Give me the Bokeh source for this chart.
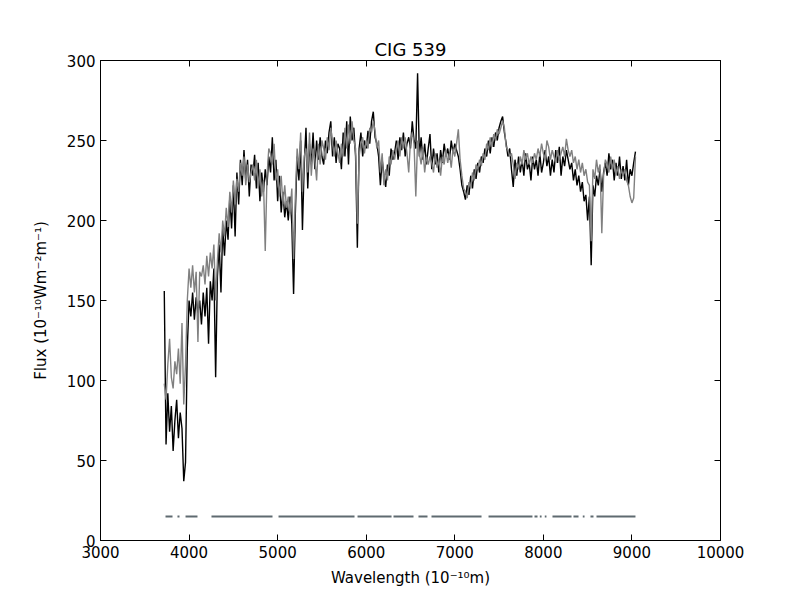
from bokeh.plotting import figure
from bokeh.models import LinearAxis, Range1d, FixedTicker
from bokeh.embed import file_html
from bokeh.resources import INLINE

TITLE = "CIG 539"
X_LABEL = "Wavelength (10\u207b\u00b9\u2070m)"
Y_LABEL = "Flux (10\u207b\u00b9\u2070Wm\u207b\u00b2m\u207b\u00b9)"
X_TICKS = [3000, 4000, 5000, 6000, 7000, 8000, 9000, 10000]
Y_TICKS = [0, 50, 100, 150, 200, 250, 300]

wave = [
    3720, 3740, 3760, 3780, 3800, 3820, 3840, 3860, 3880, 3900,
    3920, 3940, 3960, 3980, 4000, 4020, 4040, 4060, 4080, 4100,
    4120, 4140, 4160, 4180, 4200, 4220, 4240, 4260, 4280, 4300,
    4320, 4340, 4360, 4380, 4400, 4420, 4440, 4460, 4480, 4500,
    4520, 4540, 4560, 4580, 4600, 4620, 4640, 4660, 4680, 4700,
    4720, 4740, 4760, 4780, 4800, 4820, 4840, 4860, 4880, 4900,
    4920, 4940, 4960, 4980, 5000, 5020, 5040, 5060, 5080, 5100,
    5120, 5140, 5160, 5180, 5200, 5220, 5240, 5260, 5280, 5300,
    5320, 5340, 5360, 5380, 5400, 5420, 5440, 5460, 5480, 5500,
    5520, 5540, 5560, 5580, 5600, 5620, 5640, 5660, 5680, 5700,
    5720, 5740, 5760, 5780, 5800, 5820, 5840, 5860, 5880, 5900,
    5920, 5940, 5960, 5980, 6000, 6020, 6040, 6060, 6080, 6100,
    6120, 6140, 6160, 6180, 6200, 6220, 6240, 6260, 6280, 6300,
    6320, 6340, 6360, 6380, 6400, 6420, 6440, 6460, 6480, 6500,
    6520, 6540, 6560, 6580, 6600, 6620, 6640, 6660, 6680, 6700,
    6720, 6740, 6760, 6780, 6800, 6820, 6840, 6860, 6880, 6900,
    6920, 6940, 6960, 6980, 7000, 7020, 7040, 7060, 7080, 7100,
    7120, 7140, 7160, 7180, 7200, 7220, 7240, 7260, 7280, 7300,
    7320, 7340, 7360, 7380, 7400, 7420, 7440, 7460, 7480, 7500,
    7520, 7540, 7560, 7580, 7600, 7620, 7640, 7660, 7680, 7700,
    7720, 7740, 7760, 7780, 7800, 7820, 7840, 7860, 7880, 7900,
    7920, 7940, 7960, 7980, 8000, 8020, 8040, 8060, 8080, 8100,
    8120, 8140, 8160, 8180, 8200, 8220, 8240, 8260, 8280, 8300,
    8320, 8340, 8360, 8380, 8400, 8420, 8440, 8460, 8480, 8500,
    8520, 8540, 8560, 8580, 8600, 8620, 8640, 8660, 8680, 8700,
    8720, 8740, 8760, 8780, 8800, 8820, 8840, 8860, 8880, 8900,
    8920, 8940, 8960, 8980, 9000, 9020, 9040,
]

flux_observed = [
    156, 60, 92, 68, 84, 56, 75, 88, 64, 80,
    70, 37, 49, 120, 150, 140, 155, 138, 152, 142,
    150, 135, 155, 140, 158, 123, 162, 150, 170, 102,
    165, 185, 155, 195, 178, 200, 188, 215, 195, 222,
    190, 230, 210, 238, 222, 244, 225, 238, 215, 235,
    228, 241, 220, 236, 212, 230, 218, 232, 222, 240,
    230, 252, 225, 238, 212, 228, 205, 218, 202, 212,
    200, 215, 198, 154, 205, 240, 225, 250, 194, 235,
    258, 220, 248, 235, 255, 232, 250, 238, 252, 240,
    235, 250, 242, 255, 262, 240, 252, 236, 248, 245,
    232, 255, 240, 262, 235, 265, 250, 258, 240, 183,
    245, 255, 240, 250, 245, 256, 248, 262, 268, 252,
    248, 240, 222, 238, 228, 221, 235, 228, 245, 238,
    242, 250, 238, 252, 244, 255, 240, 248, 252, 245,
    262, 250, 245, 292, 240, 252, 238, 248, 235, 245,
    254, 232, 245, 235, 242, 230, 244, 236, 248, 240,
    245, 238, 250, 242, 248, 244, 240, 232, 222, 218,
    213, 222, 216, 228, 220, 232, 226, 236, 230, 240,
    236, 245, 240, 250, 242, 252, 246, 255, 250, 258,
    262, 265, 255, 248, 240, 245, 232, 221, 238, 228,
    240, 230, 238, 228, 242, 232, 236, 225, 240, 232,
    238, 228, 242, 230, 236, 244, 234, 240, 228, 238,
    230, 244, 236, 246, 228, 240, 234, 244, 238, 232,
    236, 225, 232, 222, 228, 218, 224, 212, 216, 200,
    215, 172, 222, 215, 228, 222, 232, 218, 230, 236,
    228, 242, 232, 238, 225, 236, 228, 240, 226, 234,
    225, 238, 222, 232, 228, 236, 243,
]

flux_model = [
    98, 88, 110, 126, 102, 95, 112, 104, 120, 98,
    136, 85, 110, 150, 170, 158, 172, 155, 168, 124,
    168, 165, 172, 160, 178, 165, 180, 170, 185, 150,
    175, 192, 180, 200, 190, 208, 196, 218, 205, 225,
    210, 226, 218, 236, 228, 240, 222, 235, 224, 230,
    235, 225, 238, 220, 232, 215, 225, 181, 228, 245,
    242, 235, 248, 225, 232, 215, 228, 210, 222, 208,
    215, 205, 220, 176, 215, 245, 232, 255, 218, 240,
    245, 230, 255, 228, 245, 238, 225, 248, 235, 250,
    245, 238, 252, 244, 258, 248, 240, 250, 242, 236,
    248, 240, 258, 245, 260, 248, 262, 250, 245, 198,
    240, 248, 252, 242, 250, 245, 258, 255, 262, 256,
    245, 250, 230, 242, 222, 232, 225, 240, 235, 244,
    238, 245, 250, 240, 252, 245, 252, 242, 230, 250,
    255, 248, 215, 250, 242, 235, 245, 230, 240, 235,
    240, 236, 230, 242, 233, 238, 228, 240, 235, 244,
    236, 242, 233, 245, 240, 248, 257, 238, 228, 220,
    218, 214, 224, 220, 230, 225, 235, 232, 238, 234,
    242, 238, 248, 244, 252, 246, 254, 250, 257, 254,
    258, 262, 258, 246, 244, 240, 242, 235, 226, 236,
    232, 240, 235, 244, 238, 242, 235, 240, 236, 242,
    238, 245, 240, 248, 242, 238, 250, 246, 238, 244,
    240, 236, 244, 238, 242, 246, 240, 251, 244, 240,
    244, 236, 240, 232, 238, 230, 236, 228, 232, 224,
    222, 187, 232, 226, 238, 230, 235, 192, 228, 238,
    235, 230, 240, 232, 238, 228, 234, 226, 232, 228,
    232, 225, 222, 215, 211, 214, 240,
]

mask_start = [3734, 3869, 3960, 4253, 5010, 5902, 6308, 6590, 6737,
              7381, 7900, 7960, 8016, 8103, 8340, 8445, 8532, 8600]
mask_end = [3813, 3892, 4095, 4942, 5868, 6286, 6534, 6692, 7302,
            7877, 7934, 7980, 8035, 8318, 8397, 8465, 8566, 9040]
MASK_LEVEL = 15

FONT = "DejaVu Sans"

p = figure(width=784, height=590, x_range=Range1d(3000, 10000), y_range=Range1d(0, 300),
           output_backend="svg", toolbar_location=None,
           min_border_left=100, min_border_right=64, min_border_top=60, min_border_bottom=50,
           title=TITLE)
p.grid.visible = False
p.outline_line_color = "black"
p.outline_line_width = 1
p.background_fill_color = "white"
p.border_fill_color = "white"

p.title.align = "center"
p.title.text_font = FONT
p.title.text_font_size = "18px"
p.title.text_font_style = "normal"
p.title.text_color = "black"
p.title.standoff = 2

p.line(wave, flux_observed, line_color="black", line_width=1.4)
p.line(wave, flux_model, line_color="#808080", line_width=1.4)
p.segment(x0=mask_start, y0=[MASK_LEVEL] * len(mask_start), x1=mask_end,
          y1=[MASK_LEVEL] * len(mask_end), line_color="#5f6a70", line_width=2)

p.add_layout(LinearAxis(), "above")
p.add_layout(LinearAxis(), "right")

for ax in p.xaxis:
    ax.ticker = FixedTicker(ticks=X_TICKS)
for ax in p.yaxis:
    ax.ticker = FixedTicker(ticks=Y_TICKS)

for ax in p.axis:
    ax.major_tick_in = 6
    ax.major_tick_out = 0
    ax.minor_tick_line_color = None
    ax.major_tick_line_color = "black"
    ax.axis_line_color = "black"
    ax.major_label_text_font = FONT
    ax.major_label_text_font_size = "15px"
    ax.major_label_text_color = "black"
    ax.major_label_standoff = 5
    ax.axis_label_text_font = FONT
    ax.axis_label_text_font_size = "15px"
    ax.axis_label_text_font_style = "normal"
    ax.axis_label_text_color = "black"

for ax in (p.above[0], p.right[0]):
    ax.major_label_text_color = None
    ax.major_label_text_font_size = "1px"
    ax.major_label_standoff = 0

p.below[0].axis_label = X_LABEL
p.below[0].axis_label_standoff = 8
p.left[0].axis_label = Y_LABEL
p.left[0].axis_label_standoff = 14

open("out.html", "w").write(file_html(p, INLINE))
